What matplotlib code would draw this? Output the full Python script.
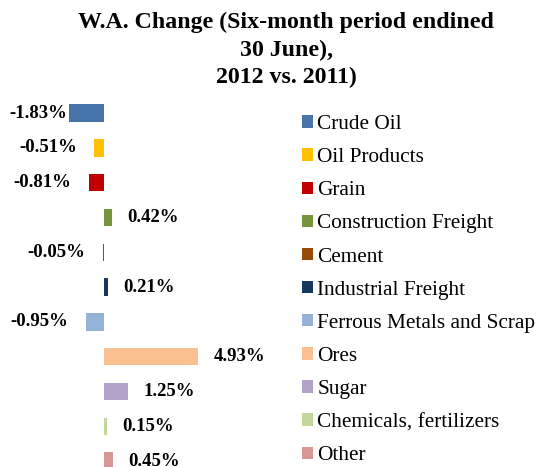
import matplotlib
matplotlib.use('Agg')
import matplotlib.pyplot as plt
from matplotlib.patches import Patch

categories = ['Crude Oil', 'Oil Products', 'Grain', 'Construction Freight', 'Cement',
              'Industrial Freight', 'Ferrous Metals and Scrap', 'Ores', 'Sugar',
              'Chemicals, fertilizers', 'Other']
changes = [-1.83, -0.51, -0.81, 0.42, -0.05, 0.21, -0.95, 4.93, 1.25, 0.15, 0.45]
colors = ['#4674AB', '#FFC000', '#C00000', '#77933C', '#984807', '#17375E',
          '#95B3D7', '#FAC090', '#B3A2C7', '#C3D69B', '#D99694']

plt.rcParams['font.family'] = ['Liberation Serif', 'DejaVu Serif']

W, H = 537, 467
fig = plt.figure(figsize=(W / 100, H / 100), dpi=100)

# axes placed in pixels: zero line at x=104, 19.07 px per 1%, rows 34.8 px apart
px_per_unit = 19.07
ax_left, ax_right = 0, 290
row = 34.8
top_px = 113 - row / 2
bottom_px = top_px + row * len(categories)
ax = fig.add_axes([ax_left / W, 1 - bottom_px / H, (ax_right - ax_left) / W, (bottom_px - top_px) / H])
ax.set_xlim((ax_left - 104) / px_per_unit, (ax_right - 104) / px_per_unit)
ax.set_ylim(len(categories) - 0.5, -0.5)

ypos = list(range(len(categories)))
ax.barh(ypos, changes, height=0.5, color=colors)

for i, v in enumerate(changes):
    label = '%.2f%%' % v
    if v >= 0:
        ax.annotate(label, (v, i), xytext=(11, 0), textcoords='offset points',
                    ha='left', va='center', fontsize=13.5, fontweight='bold')
    else:
        # the biggest negative label got pushed against the left edge
        off = -1.5 if v < -1.5 else -12.5
        ax.annotate(label, (v, i), xytext=(off, 0), textcoords='offset points',
                    ha='right', va='center', fontsize=13.5, fontweight='bold')

ax.axis('off')

handles = [Patch(facecolor=c, edgecolor='none') for c in colors]
fig.legend(handles, categories, loc='upper left', bbox_to_anchor=(302 / W, 1 - 115 / H),
           frameon=False, fontsize=15.3, handlelength=0.52, handleheight=0.52,
           handletextpad=0.2, labelspacing=0.665, borderpad=0, borderaxespad=0)

fig.text(286 / W, 1 - 12 / H, 'W.A. Change (Six-month period endined\n30 June),\n2012 vs. 2011)',
         ha='center', va='top', fontsize=17.2, fontweight='bold', linespacing=1.4)

fig.savefig('out.png', dpi=100)
